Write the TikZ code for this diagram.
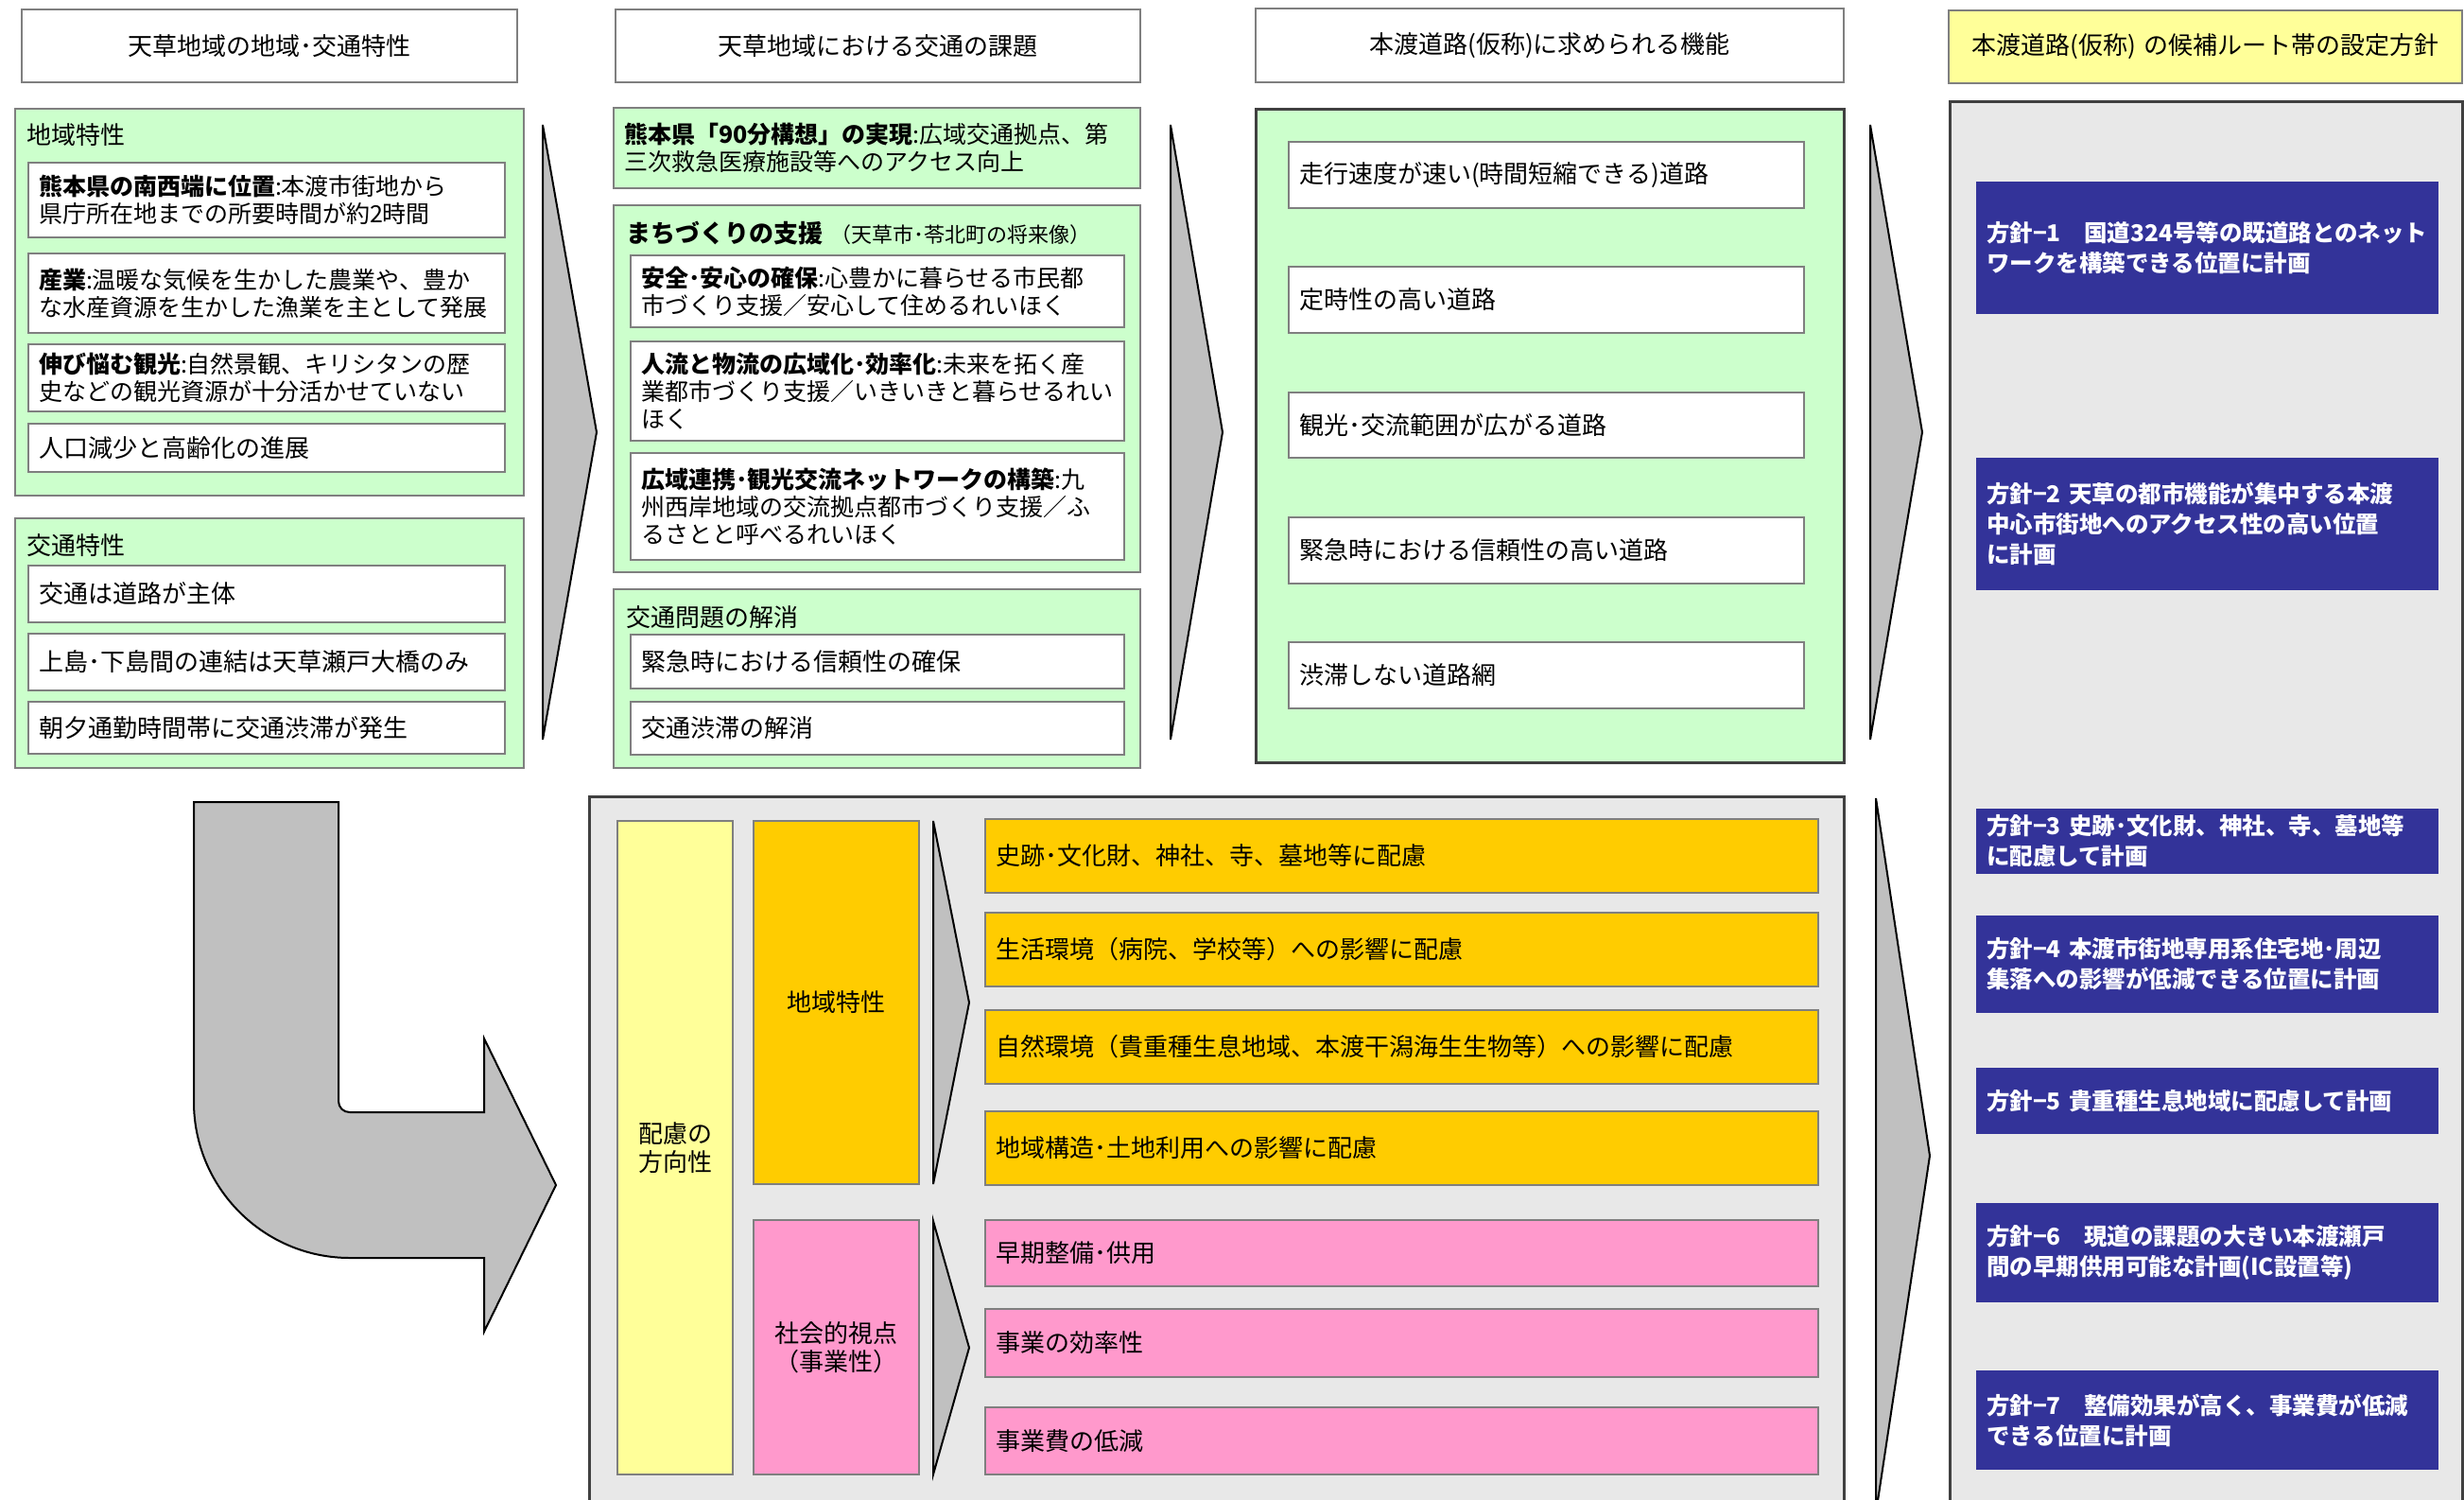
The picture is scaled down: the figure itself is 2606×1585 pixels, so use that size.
\documentclass[tikz,border=0pt]{standalone}
\usepackage{fontspec}
\setmainfont{Noto Sans CJK JP}
\definecolor{lgreen}{HTML}{CCFFCC}
\definecolor{lgray}{HTML}{E8E8E8}
\definecolor{chev}{HTML}{C0C0C0}
\definecolor{lyellow}{HTML}{FFFF99}
\definecolor{orng}{HTML}{FFCC00}
\definecolor{pnk}{HTML}{FF99CC}
\definecolor{navy}{HTML}{333399}
\definecolor{bord}{HTML}{7F7F7F}
\definecolor{dbord}{HTML}{404040}
\newcommand{\fsz}{\fontsize{25}{29}\selectfont}
\newcommand{\fsg}{\fontsize{26}{30}\selectfont}
\newcommand{\fsh}{\fontsize{26}{30}\selectfont}
\newcommand{\fszb}{\fontsize{24.5}{32}\selectfont}
\newcommand{\fsm}{\fontsize{22}{26}\selectfont}
\newcommand{\BX}[7]{%
 \pgfmathsetmacro\bxw{#5-#3}\pgfmathsetmacro\bxh{#6-#4}%
 \pgfmathsetmacro\bxcx{(#3+#5)/2}\pgfmathsetmacro\bxcy{(#4+#6)/2}%
 \pgfmathsetmacro\bxtw{#5-#3-22}%
 \node[#1, minimum width=\bxw pt, minimum height=\bxh pt, text width=\bxtw pt] (#2) at (\bxcx,\bxcy) {#7};}
\begin{document}
\begin{tikzpicture}[x=1pt,y=-1pt,
  base/.style={inner xsep=11pt, inner ysep=1pt, font=\fsg, align=left, line width=2.5pt},
  ctr/.style={align=center},
  mixed/.style={font=\fsz},
  wbox/.style={base, draw=bord, fill=white},
  hbox/.style={base, draw=bord, fill=white, align=center, font=\fsh},
  cont/.style={base, draw=bord, fill=lgreen},
  dcont/.style={base, draw=dbord, line width=3pt, fill=lgreen},
  gcont/.style={base, draw=dbord, line width=3pt, fill=lgray},
  obox/.style={base, draw=bord, fill=orng},
  pbox/.style={base, draw=bord, fill=pnk},
  ybox/.style={base, draw=bord, fill=lyellow},
  nbox/.style={base, fill=navy, text=white, font=\fszb\bfseries, draw=none},
  lbl/.style={inner sep=0pt, font=\fsg, anchor=west},
  chv/.style={fill=chev, draw=black, line width=2pt, line join=miter}]
\fill[white] (0,0) rectangle (2606,1585);
\useasboundingbox (0,0) rectangle (2606,1585);
\begin{scope}
\clip (0,0) rectangle (2606,1585);
% ---------- column 1
\BX{hbox}{h1}{23}{10}{547}{87}{天草地域の地域･交通特性}
\BX{cont}{A}{16}{115}{554}{524}{}
\node[lbl] (Alab) at (28,143) {地域特性};
\BX{wbox,mixed}{b1}{30}{172}{534}{251}{{\bfseries 熊本県の南西端に位置}:本渡市街地から\\県庁所在地までの所要時間が約2時間}
\BX{wbox,mixed}{b2}{30}{268}{534}{352}{{\bfseries 産業}:温暖な気候を生かした農業や、豊か\\な水産資源を生かした漁業を主として発展}
\BX{wbox,mixed}{b3}{30}{364}{534}{435}{{\bfseries 伸び悩む観光}:自然景観、キリシタンの歴\\史などの観光資源が十分活かせていない}
\BX{wbox}{b4}{30}{448}{534}{499}{人口減少と高齢化の進展}
\BX{cont}{B}{16}{548}{554}{812}{}
\node[lbl] (Blab) at (28,577) {交通特性};
\BX{wbox}{c1}{30}{598}{534}{658}{交通は道路が主体}
\BX{wbox}{c2}{30}{670}{534}{730}{上島･下島間の連結は天草瀬戸大橋のみ}
\BX{wbox}{c3}{30}{742}{534}{797}{朝夕通勤時間帯に交通渋滞が発生}
% ---------- column 2
\BX{hbox}{h2}{651}{10}{1206}{87}{天草地域における交通の課題}
\BX{cont,mixed}{D}{649}{114}{1206}{199}{{\bfseries 熊本県「90分構想」の実現}:広域交通拠点、第\\三次救急医療施設等へのアクセス向上}
\BX{cont}{E}{649}{217}{1206}{605}{}
\node[lbl] (Elab) at (662,247) {{\bfseries まちづくりの支援}\hspace{8pt}{\fsm （天草市･苓北町の将来像）}};
\BX{wbox,mixed}{e1}{667}{270}{1189}{346}{{\bfseries 安全･安心の確保}:心豊かに暮らせる市民都\\市づくり支援／安心して住めるれいほく}
\BX{wbox,mixed}{e2}{667}{361}{1189}{466}{{\bfseries 人流と物流の広域化･効率化}:未来を拓く産\\業都市づくり支援／いきいきと暮らせるれい\\ほく}
\BX{wbox,mixed}{e3}{667}{479}{1189}{592}{{\bfseries 広域連携･観光交流ネットワークの構築}:九\\州西岸地域の交流拠点都市づくり支援／ふ\\るさとと呼べるれいほく}
\BX{cont}{F}{649}{623}{1206}{812}{}
\node[lbl] (Flab) at (662,653) {交通問題の解消};
\BX{wbox}{f1}{667}{671}{1189}{728}{緊急時における信頼性の確保}
\BX{wbox}{f2}{667}{742}{1189}{798}{交通渋滞の解消}
% ---------- column 3
\BX{hbox}{h3}{1328}{9}{1950}{87}{本渡道路(仮称)に求められる機能}
\BX{dcont}{G}{1328}{115}{1950}{806}{}
\BX{wbox}{g1}{1363}{150}{1908}{220}{走行速度が速い(時間短縮できる)道路}
\BX{wbox}{g2}{1363}{282}{1908}{352}{定時性の高い道路}
\BX{wbox}{g3}{1363}{415}{1908}{484}{観光･交流範囲が広がる道路}
\BX{wbox}{g4}{1363}{547}{1908}{617}{緊急時における信頼性の高い道路}
\BX{wbox}{g5}{1363}{679}{1908}{749}{渋滞しない道路網}
% ---------- column 4
\BX{ybox,ctr,font=\fsh}{h4}{2061}{11}{2604}{88}{本渡道路(仮称) の候補ルート帯の設定方針}
\BX{gcont}{R}{2062}{107}{2604}{1620}{}
\BX{nbox}{n1}{2090}{192}{2579}{332}{方針−1　国道324号等の既道路とのネット\\ワークを構築できる位置に計画}
\BX{nbox}{n2}{2090}{484}{2579}{624}{方針−2 天草の都市機能が集中する本渡\\中心市街地へのアクセス性の高い位置\\に計画}
\BX{nbox}{n3}{2090}{855}{2579}{924}{方針−3 史跡･文化財、神社、寺、墓地等\\に配慮して計画}
\BX{nbox}{n4}{2090}{968}{2579}{1071}{方針−4 本渡市街地専用系住宅地･周辺\\集落への影響が低減できる位置に計画}
\BX{nbox}{n5}{2090}{1129}{2579}{1199}{方針−5 貴重種生息地域に配慮して計画}
\BX{nbox}{n6}{2090}{1272}{2579}{1377}{方針−6　現道の課題の大きい本渡瀬戸\\間の早期供用可能な計画(IC設置等)}
\BX{nbox}{n7}{2090}{1449}{2579}{1554}{方針−7　整備効果が高く、事業費が低減\\できる位置に計画}
% ---------- bottom block
\BX{gcont}{L}{623}{842}{1950}{1620}{}
\BX{ybox,ctr}{y1}{653}{868}{775}{1559}{配慮の\\方向性}
\BX{obox,ctr}{o0}{797}{868}{972}{1252}{地域特性}
\BX{pbox,ctr}{p0}{797}{1290}{972}{1559}{社会的視点\\（事業性）}
\BX{obox}{o1}{1042}{866}{1923}{944}{史跡･文化財、神社、寺、墓地等に配慮}
\BX{obox}{o2}{1042}{965}{1923}{1043}{生活環境（病院、学校等）への影響に配慮}
\BX{obox}{o3}{1042}{1068}{1923}{1146}{自然環境（貴重種生息地域、本渡干潟海生生物等）への影響に配慮}
\BX{obox}{o4}{1042}{1175}{1923}{1253}{地域構造･土地利用への影響に配慮}
\BX{pbox}{p1}{1042}{1290}{1923}{1360}{早期整備･供用}
\BX{pbox}{p2}{1042}{1384}{1923}{1456}{事業の効率性}
\BX{pbox}{p3}{1042}{1488}{1923}{1559}{事業費の低減}
% ---------- chevrons
\filldraw[chv] (574,132) -- (631,457) -- (574,782) -- cycle;
\filldraw[chv] (1238,132) -- (1293,457) -- (1238,782) -- cycle;
\filldraw[chv] (1978,132) -- (2033,457) -- (1978,782) -- cycle;
\filldraw[chv] (1984,844) -- (2041,1222) -- (1984,1600) -- cycle;
\filldraw[chv] (987,868) -- (1025,1060) -- (987,1252) -- cycle;
\filldraw[chv] (987,1291) -- (1025,1425) -- (987,1559) -- cycle;
% ---------- bent arrow
\filldraw[fill=chev, draw=black, line width=2pt, line join=miter]
  (205,848) -- (205,1165) .. controls (205,1256) and (279,1330) .. (370,1330)
  -- (512,1330) -- (512,1408) -- (588,1253) -- (512,1098) -- (512,1176)
  -- (370,1176) .. controls (363,1176) and (358,1171) .. (358,1164)
  -- (358,848) -- cycle;
\end{scope}
\end{tikzpicture}
\end{document}
